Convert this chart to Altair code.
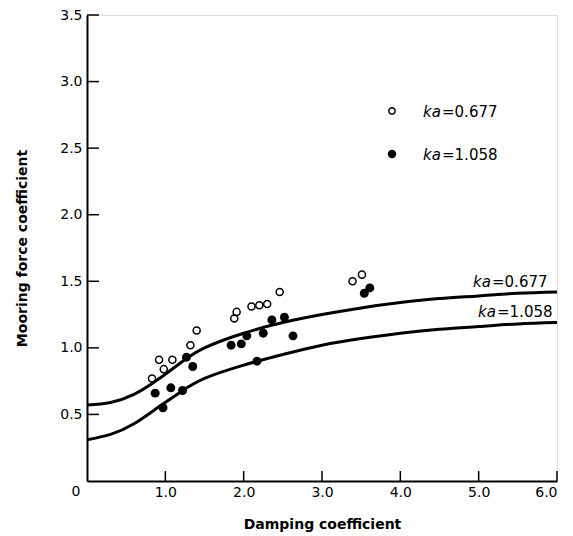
import altair as alt
import pandas as pd

# ---- data ----
open_x = [0.83, 0.92, 0.98, 1.09, 1.32, 1.40, 1.88, 1.91, 2.10, 2.20, 2.30, 2.46, 3.39, 3.51]
open_y = [0.77, 0.91, 0.84, 0.91, 1.02, 1.13, 1.22, 1.27, 1.31, 1.32, 1.33, 1.42, 1.50, 1.55]
filled_x = [0.87, 0.97, 1.07, 1.22, 1.27, 1.35, 1.84, 1.97, 2.04, 2.17, 2.25, 2.36, 2.52, 2.63, 3.54, 3.61]
filled_y = [0.66, 0.55, 0.70, 0.68, 0.93, 0.86, 1.02, 1.03, 1.09, 0.90, 1.11, 1.21, 1.23, 1.09, 1.41, 1.45]

curve_x = [0.0, 0.3, 0.6, 0.9, 1.2, 1.5, 2.0, 2.5, 3.0, 3.5, 4.0, 4.5, 5.0, 5.5, 6.0]
upper_y = [0.57, 0.59, 0.65, 0.76, 0.89, 1.00, 1.11, 1.19, 1.25, 1.30, 1.34, 1.37, 1.39, 1.41, 1.42]
lower_y = [0.31, 0.35, 0.43, 0.55, 0.67, 0.77, 0.87, 0.95, 1.02, 1.07, 1.11, 1.14, 1.16, 1.18, 1.19]

x_ticks = [1, 2, 3, 4, 5, 6]
y_ticks = [0.5, 1.0, 1.5, 2.0, 2.5, 3.0, 3.5]
series_names = ["ka=0.677", "ka=1.058"]
value_labels = ["=0.677", "=1.058"]
ka_text = "ka"
origin_label = ["0"]

W, H = 470, 466
FONT = "DejaVu Sans"

xs = alt.Scale(domain=[0, 6], nice=False)
ys = alt.Scale(domain=[0, 3.5], nice=False)

x_enc = alt.X("x:Q", scale=xs, axis=alt.Axis(
    values=x_ticks, format=".1f", ticks=False, grid=False,
    domainColor="black", domainWidth=2, labelColor="black",
    labelFont=FONT, labelFontSize=14, labelPadding=4,
    title="Damping coefficient", titleFont=FONT, titleFontSize=14,
    titleFontWeight="bold", titleColor="black", titlePadding=18))
y_enc = alt.Y("y:Q", scale=ys, axis=alt.Axis(
    values=y_ticks, format=".1f", ticks=False, grid=False,
    domainColor="black", domainWidth=2, labelColor="black",
    labelFont=FONT, labelFontSize=14, labelPadding=5,
    title="Mooring force coefficient", titleFont=FONT, titleFontSize=14,
    titleFontWeight="bold", titleColor="black", titlePadding=30))

curves = pd.DataFrame({
    "x": curve_x + curve_x,
    "y": upper_y + lower_y,
    "s": [series_names[0]] * len(curve_x) + [series_names[1]] * len(curve_x),
})
open_df = pd.DataFrame({"x": open_x, "y": open_y})
filled_df = pd.DataFrame({"x": filled_x, "y": filled_y})

lines = alt.Chart(curves).mark_line(interpolate="natural", color="black", strokeWidth=3).encode(
    x=x_enc, y=y_enc, detail="s:N")
opens = alt.Chart(open_df).mark_point(shape="circle", filled=False, color="black",
                                      strokeWidth=1.5, size=50, opacity=1).encode(x=x_enc, y=y_enc)
fills = alt.Chart(filled_df).mark_circle(color="black", size=80, opacity=1).encode(x=x_enc, y=y_enc)

xt = alt.Chart(pd.DataFrame({"x": x_ticks})).mark_rule(color="black", strokeWidth=1.5).encode(
    x=x_enc, y=alt.value(H), y2=alt.value(H - 10))
yt = alt.Chart(pd.DataFrame({"y": y_ticks})).mark_rule(color="black", strokeWidth=1.5).encode(
    y=y_enc, x=alt.value(0), x2=alt.value(12))

zero = alt.Chart(pd.DataFrame({"t": origin_label})).mark_text(
    font=FONT, fontSize=14, color="black", align="center", baseline="top").encode(
    x=alt.value(-11), y=alt.value(H + 4), text="t:N")


def label(text, x, y, italic, align, size=15):
    return alt.Chart(pd.DataFrame({"t": [text]})).mark_text(
        font=FONT, fontSize=size, color="black", align=align, baseline="alphabetic",
        fontStyle="italic" if italic else "normal").encode(
        x=alt.value(x), y=alt.value(y), text="t:N")


# legend (top right)
leg_open = alt.Chart(pd.DataFrame({"t": [series_names[0]]})).mark_point(
    shape="circle", filled=False, color="black", strokeWidth=1.5, size=40, opacity=1).encode(
    x=alt.value(305), y=alt.value(96))
leg_fill = alt.Chart(pd.DataFrame({"t": [series_names[1]]})).mark_circle(
    color="black", size=70, opacity=1).encode(x=alt.value(305), y=alt.value(139))

layers = [
    lines, opens, fills, xt, yt, zero, leg_open, leg_fill,
    label(ka_text, 354, 102, True, "right"), label(value_labels[0], 355, 102, False, "left"),
    label(ka_text, 354, 145, True, "right"), label(value_labels[1], 355, 145, False, "left"),
    label(ka_text, 404, 272, True, "right"), label(value_labels[0], 405, 272, False, "left"),
    label(ka_text, 409, 302, True, "right"), label(value_labels[1], 410, 302, False, "left"),
]

chart = alt.layer(*layers).properties(
    width=W, height=H,
    autosize=alt.AutoSizeParams(type="none"),
    padding={"left": 87, "top": 15, "right": 16, "bottom": 55},
).configure_view(stroke=None).configure(background="white")

chart.save("out.html", embed_options={"renderer": "svg", "actions": False})
